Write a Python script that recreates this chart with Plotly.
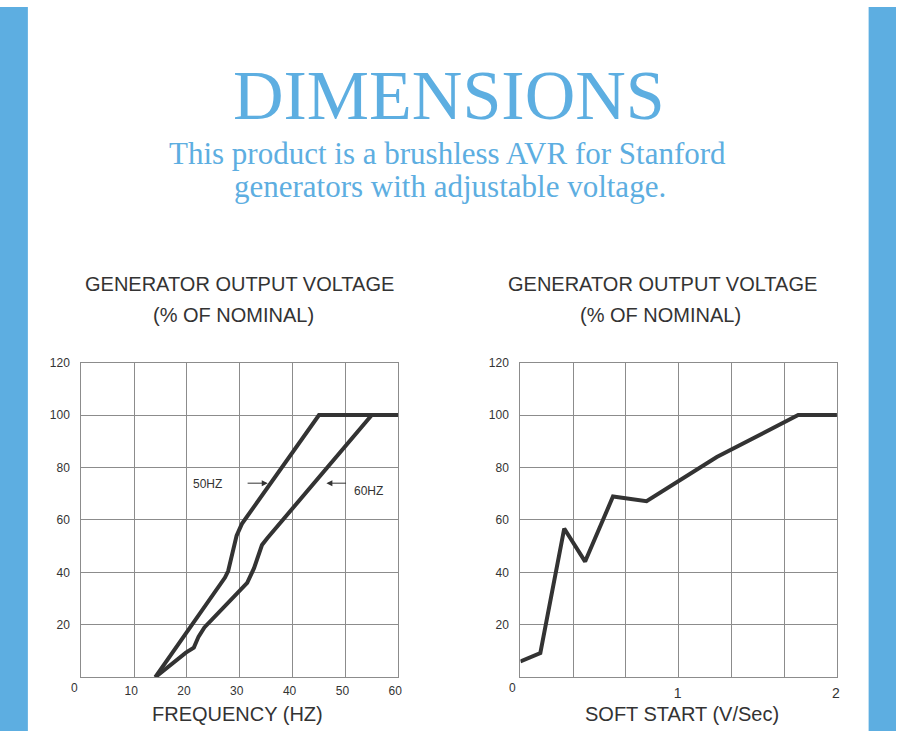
import plotly.graph_objects as go

# ---- data ----
freq_50_x = [14, 27.2, 27.8, 28.6, 29.4, 30.4, 45, 60]
freq_50_y = [0, 38, 40.5, 47, 54, 58.5, 100, 100]
freq_60_x = [14, 19.8, 21.3, 22.2, 23.3, 31.4, 32.7, 34.2, 35.2, 55, 60]
freq_60_y = [0, 9.4, 11.3, 15.5, 19, 36, 41.6, 50.4, 53, 100, 100]
soft_x = [0, 0.126, 0.277, 0.409, 0.585, 0.797, 1.241, 1.755, 2.0]
soft_y = [6.0, 9.2, 56.7, 44.1, 68.9, 67.1, 84.0, 100, 100]

freq_ticks = [10, 20, 30, 40, 50, 60]
volt_ticks = [20, 40, 60, 80, 100, 120]
soft_grid = [1/3, 2/3, 1, 4/3, 5/3, 2]
soft_labels = ["", "", "1", "", "", "2"]

BLUE = "#5DAEE1"
DARK = "#333333"
GRID = "#8c8c8c"

fig = go.Figure()
fig.add_trace(go.Scatter(x=freq_50_x, y=freq_50_y, mode="lines",
                         line=dict(color=DARK, width=4), xaxis="x", yaxis="y",
                         showlegend=False, hoverinfo="skip"))
fig.add_trace(go.Scatter(x=freq_60_x, y=freq_60_y, mode="lines",
                         line=dict(color=DARK, width=4), xaxis="x", yaxis="y",
                         showlegend=False, hoverinfo="skip"))
fig.add_trace(go.Scatter(x=soft_x, y=soft_y, mode="lines",
                         line=dict(color=DARK, width=4), xaxis="x2", yaxis="y2",
                         showlegend=False, hoverinfo="skip"))

H = 731.0
W = 900.0
def py(px):
    return 1 - px / H
def pxx(px):
    return px / W

tickfont = dict(family="Liberation Sans, Arial, sans-serif", size=12, color=DARK)
axis_common = dict(showgrid=True, gridcolor=GRID, gridwidth=1.2, showline=True,
                   linecolor=GRID, linewidth=1.2, mirror=True, zeroline=False,
                   ticks="", tickfont=tickfont, fixedrange=True)

fig.update_layout(
    width=900, height=731,
    margin=dict(l=0, r=0, t=0, b=0),
    paper_bgcolor="white", plot_bgcolor="white",
    showlegend=False,
    xaxis=dict(domain=[pxx(81.7), pxx(400)], range=[0, 60], tickvals=freq_ticks,
               ticklabelstandoff=2, ticklabelshift=-3, anchor="y", **axis_common),
    yaxis=dict(domain=[py(676.7), py(359)], range=[0, 120], tickvals=volt_ticks,
               ticklabelstandoff=8, anchor="x", **axis_common),
    xaxis2=dict(domain=[pxx(522.7), pxx(840.7)], range=[0, 2], tickvals=soft_grid,
                ticktext=soft_labels, ticklabelstandoff=3, ticklabelshift=-1,
                anchor="y2", **{**axis_common, "tickfont": dict(tickfont, size=14)}),
    yaxis2=dict(domain=[py(676.7), py(359)], range=[0, 120], tickvals=volt_ticks,
                ticklabelstandoff=8, anchor="x2", **axis_common),
)

# side bars
fig.add_shape(type="rect", xref="paper", yref="paper", x0=0, x1=pxx(28), y0=0, y1=1,
              fillcolor=BLUE, line_width=0, layer="below")
fig.add_shape(type="rect", xref="paper", yref="paper", x0=pxx(872.5), x1=1, y0=0, y1=1,
              fillcolor=BLUE, line_width=0, layer="below")

serif = "Liberation Serif, Times New Roman, serif"
sans = "Liberation Sans, Arial, sans-serif"

def txt(text, x, y, size, family, color, **kw):
    fig.add_annotation(text=text, xref="paper", yref="paper", x=pxx(x), y=py(y),
                       showarrow=False, xanchor="center", yanchor="middle",
                       font=dict(family=family, size=size, color=color), **kw)

txt("DIMENSIONS", 451, 89, 70, serif, BLUE)
txt("This product is a brushless AVR for Stanford", 449, 148, 31, serif, BLUE)
txt("generators with adjustable voltage.", 452, 181, 31, serif, BLUE)

txt("GENERATOR OUTPUT VOLTAGE", 241, 280, 20, sans, DARK)
txt("(% OF NOMINAL)", 235, 311, 20, sans, DARK)
txt("GENERATOR OUTPUT VOLTAGE", 665, 280, 20, sans, DARK)
txt("(% OF NOMINAL)", 663, 311, 20, sans, DARK)
txt("FREQUENCY (HZ)", 239, 714, 20, sans, DARK)
txt("SOFT START (V/Sec)", 685, 714, 20, sans, DARK)

# corner zero labels
fig.add_annotation(text="0", xref="x", yref="y", x=0, y=0, showarrow=False,
                   xshift=-7, yshift=-11, font=tickfont)
fig.add_annotation(text="0", xref="x2", yref="y2", x=0, y=0, showarrow=False,
                   xshift=-8, yshift=-11, font=tickfont)

# curve labels with arrows
fig.add_annotation(text="50HZ", xref="x", yref="y", x=23.8, y=73.6, showarrow=False,
                   font=dict(family=sans, size=12, color=DARK))
fig.add_annotation(text="60HZ", xref="x", yref="y", x=54.3, y=71.1, showarrow=False,
                   font=dict(family=sans, size=12, color=DARK))
fig.add_annotation(x=35.3, y=74, ax=31.2, ay=74, xref="x", yref="y", axref="x", ayref="y",
                   text="", showarrow=True, arrowhead=2, arrowsize=1.2, arrowwidth=1,
                   arrowcolor=DARK)
fig.add_annotation(x=46.4, y=74, ax=50.4, ay=74, xref="x", yref="y", axref="x", ayref="y",
                   text="", showarrow=True, arrowhead=2, arrowsize=1.2, arrowwidth=1,
                   arrowcolor=DARK)

fig.write_html("out.html", config={"displayModeBar": False},
               post_script="document.body.style.margin='0';document.body.style.padding='0';document.body.style.overflow='hidden';")
